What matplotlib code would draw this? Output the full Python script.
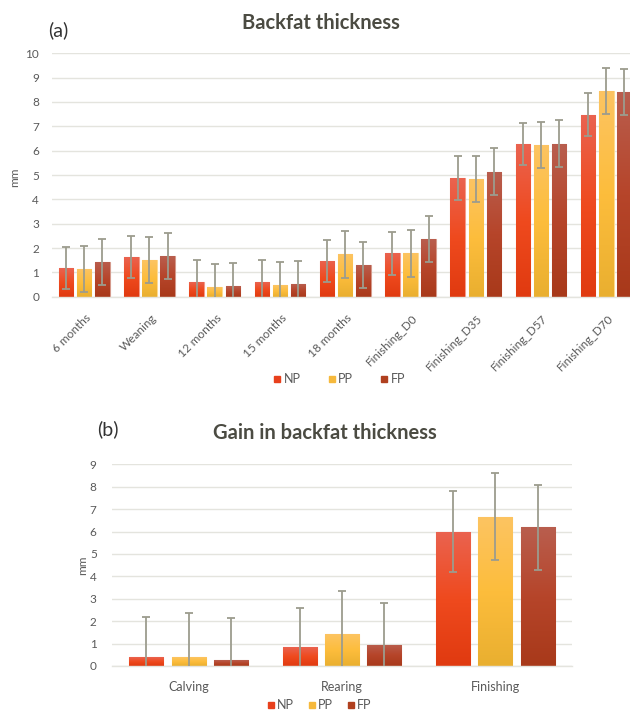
import numpy as np
import matplotlib
matplotlib.use("Agg")
import matplotlib.pyplot as plt
from matplotlib.colors import LinearSegmentedColormap
from matplotlib.lines import Line2D
from matplotlib.transforms import ScaledTranslation

plt.rcParams['font.family'] = ['Lato', 'DejaVu Sans']

# ---------------- data ----------------
series = ["NP", "PP", "FP"]

cats_a = ["6 months", "Weaning", "12 months", "15 months", "18 months",
          "Finishing_D0", "Finishing_D35", "Finishing_D57", "Finishing_D70"]
np_a = [1.18, 1.62, 0.60, 0.60, 1.48, 1.78, 4.88, 6.28, 7.48]
pp_a = [1.14, 1.52, 0.38, 0.47, 1.74, 1.78, 4.84, 6.24, 8.45]
fp_a = [1.44, 1.66, 0.43, 0.51, 1.31, 2.37, 5.14, 6.28, 8.41]
np_a_err = [0.86, 0.86, 0.91, 0.91, 0.87, 0.88, 0.89, 0.87, 0.88]
pp_a_err = [0.95, 0.95, 0.96, 0.96, 0.96, 0.96, 0.94, 0.95, 0.96]
fp_a_err = [0.95, 0.95, 0.96, 0.96, 0.95, 0.96, 0.97, 0.96, 0.95]

cats_b = ["Calving", "Rearing", "Finishing"]
np_b = [0.40, 0.84, 6.00]
pp_b = [0.40, 1.42, 6.67]
fp_b = [0.25, 0.94, 6.19]
np_b_err = [1.77, 1.77, 1.82]
pp_b_err = [1.97, 1.91, 1.96]
fp_b_err = [1.91, 1.87, 1.89]

# ---------------- style ----------------
grad_colors = {
    "NP": ["#e03a10", "#ef4a1e", "#ea6350"],
    "PP": ["#e9af30", "#fdbd3c", "#fcc462"],
    "FP": ["#a8391a", "#b6452a", "#b95e4e"],
}
solid = {"NP": "#e8401c", "PP": "#f6b93c", "FP": "#b0401f"}
edge = {"NP": "#f49a88", "PP": "#fdd98f", "FP": "#d59a8c"}
err_color = "#9c9c8e"
tick_color = "#595959"
grid_color = "#e4e4de"
title_color = "#4b4b42"

W, H = 630, 711
fig = plt.figure(figsize=(W / 100, H / 100), dpi=100)


def px_axes(left, right, top, bottom):
    return fig.add_axes([left / W, 1 - bottom / H, (right - left) / W, (bottom - top) / H])


def draw_chart(ax, cats, vals, errs, ymax):
    n = len(cats)
    x = np.arange(n)
    slot, bw = 0.277, 0.222
    ax.set_xlim(-0.5, n - 0.5)
    ax.set_ylim(0, ymax)
    for j, s in enumerate(series):
        cmap = LinearSegmentedColormap.from_list(s, grad_colors[s])
        xs = x + (j - 1) * slot
        bars = ax.bar(xs, vals[j], width=bw, color=solid[s], edgecolor=edge[s],
                      linewidth=0.8, zorder=2)
        grad = np.linspace(0, 1, 256).reshape(-1, 1)
        for b in bars:
            x0, y0 = b.get_x(), b.get_y()
            im = ax.imshow(grad, cmap=cmap, origin="lower", aspect="auto",
                           extent=[x0, x0 + b.get_width(), y0, y0 + b.get_height()],
                           zorder=2.1)
            im.set_clip_path(b)
        ax.errorbar(xs, vals[j], yerr=errs[j], fmt="none", ecolor=err_color,
                    elinewidth=1.3, capsize=3, capthick=1.3, zorder=3)
    ax.set_xlim(-0.5, n - 0.5)
    ax.set_ylim(0, ymax)
    ax.set_yticks(range(0, ymax + 1))
    ax.yaxis.grid(True, color=grid_color, linewidth=1.0, zorder=0)
    ax.set_axisbelow(True)
    for sp in ["top", "right", "left"]:
        ax.spines[sp].set_visible(False)
    ax.spines["bottom"].set_color(grid_color)
    ax.spines["bottom"].set_linewidth(1.0)
    ax.tick_params(axis="both", length=0, colors=tick_color, labelsize=8.5)
    ax.set_xticks(x)
    return x


handles = [Line2D([], [], marker="s", linestyle="none", markersize=4.5,
                  color=solid[s]) for s in series]

# ---------------- (a) ----------------
ax1 = px_axes(51.6, 638.9, 53.3, 296.7)
draw_chart(ax1, cats_a, [np_a, pp_a, fp_a], [np_a_err, pp_a_err, fp_a_err], 10)
ax1.set_xticklabels(cats_a, rotation=45, ha="right", va="center",
                    rotation_mode="anchor", fontsize=8.5, color=tick_color)
ax1.tick_params(axis="x", pad=14)
ax1.tick_params(axis="y", pad=9)
off = ScaledTranslation(5 / 100, 0, fig.dpi_scale_trans)
for lab in ax1.get_xticklabels():
    lab.set_transform(lab.get_transform() + off)
fig.text(15 / W, 1 - 177 / H, "mm", rotation=90, ha="center", va="center",
         fontsize=8.5, color=tick_color)
fig.text(321 / W, 1 - 23 / H, "Backfat thickness", ha="center", va="center",
         fontsize=14.5, fontweight="bold", color=title_color)
fig.text(58 / W, 1 - 30 / H, "(a)", ha="center", va="center", fontsize=14,
         color="#333333")

fig.legend(handles, series, loc="center", bbox_to_anchor=(338 / W, 1 - 379 / H),
           ncol=3, frameon=False, fontsize=9, handletextpad=0.0,
           columnspacing=2.0, handlelength=1.0, labelcolor=tick_color)

# ---------------- (b) ----------------
ax2 = px_axes(112, 572, 464.3, 666)
draw_chart(ax2, cats_b, [np_b, pp_b, fp_b], [np_b_err, pp_b_err, fp_b_err], 9)
ax2.set_xticklabels(cats_b, fontsize=9, color=tick_color)
ax2.tick_params(axis="x", pad=11)
ax2.tick_params(axis="y", pad=11)
fig.text(83 / W, 1 - 565 / H, "mm", rotation=90, ha="center", va="center",
         fontsize=8.5, color=tick_color)
fig.text(325 / W, 1 - 433 / H, "Gain in backfat thickness", ha="center", va="center",
         fontsize=14.5, fontweight="bold", color=title_color)
fig.text(108 / W, 1 - 429 / H, "(b)", ha="center", va="center", fontsize=14,
         color="#333333")
fig.legend(handles, series, loc="center", bbox_to_anchor=(318 / W, 1 - 705 / H),
           ncol=3, frameon=False, fontsize=9, handletextpad=0.0,
           columnspacing=0.9, handlelength=1.0, labelcolor=tick_color)

fig.savefig("out.png", dpi=100)
